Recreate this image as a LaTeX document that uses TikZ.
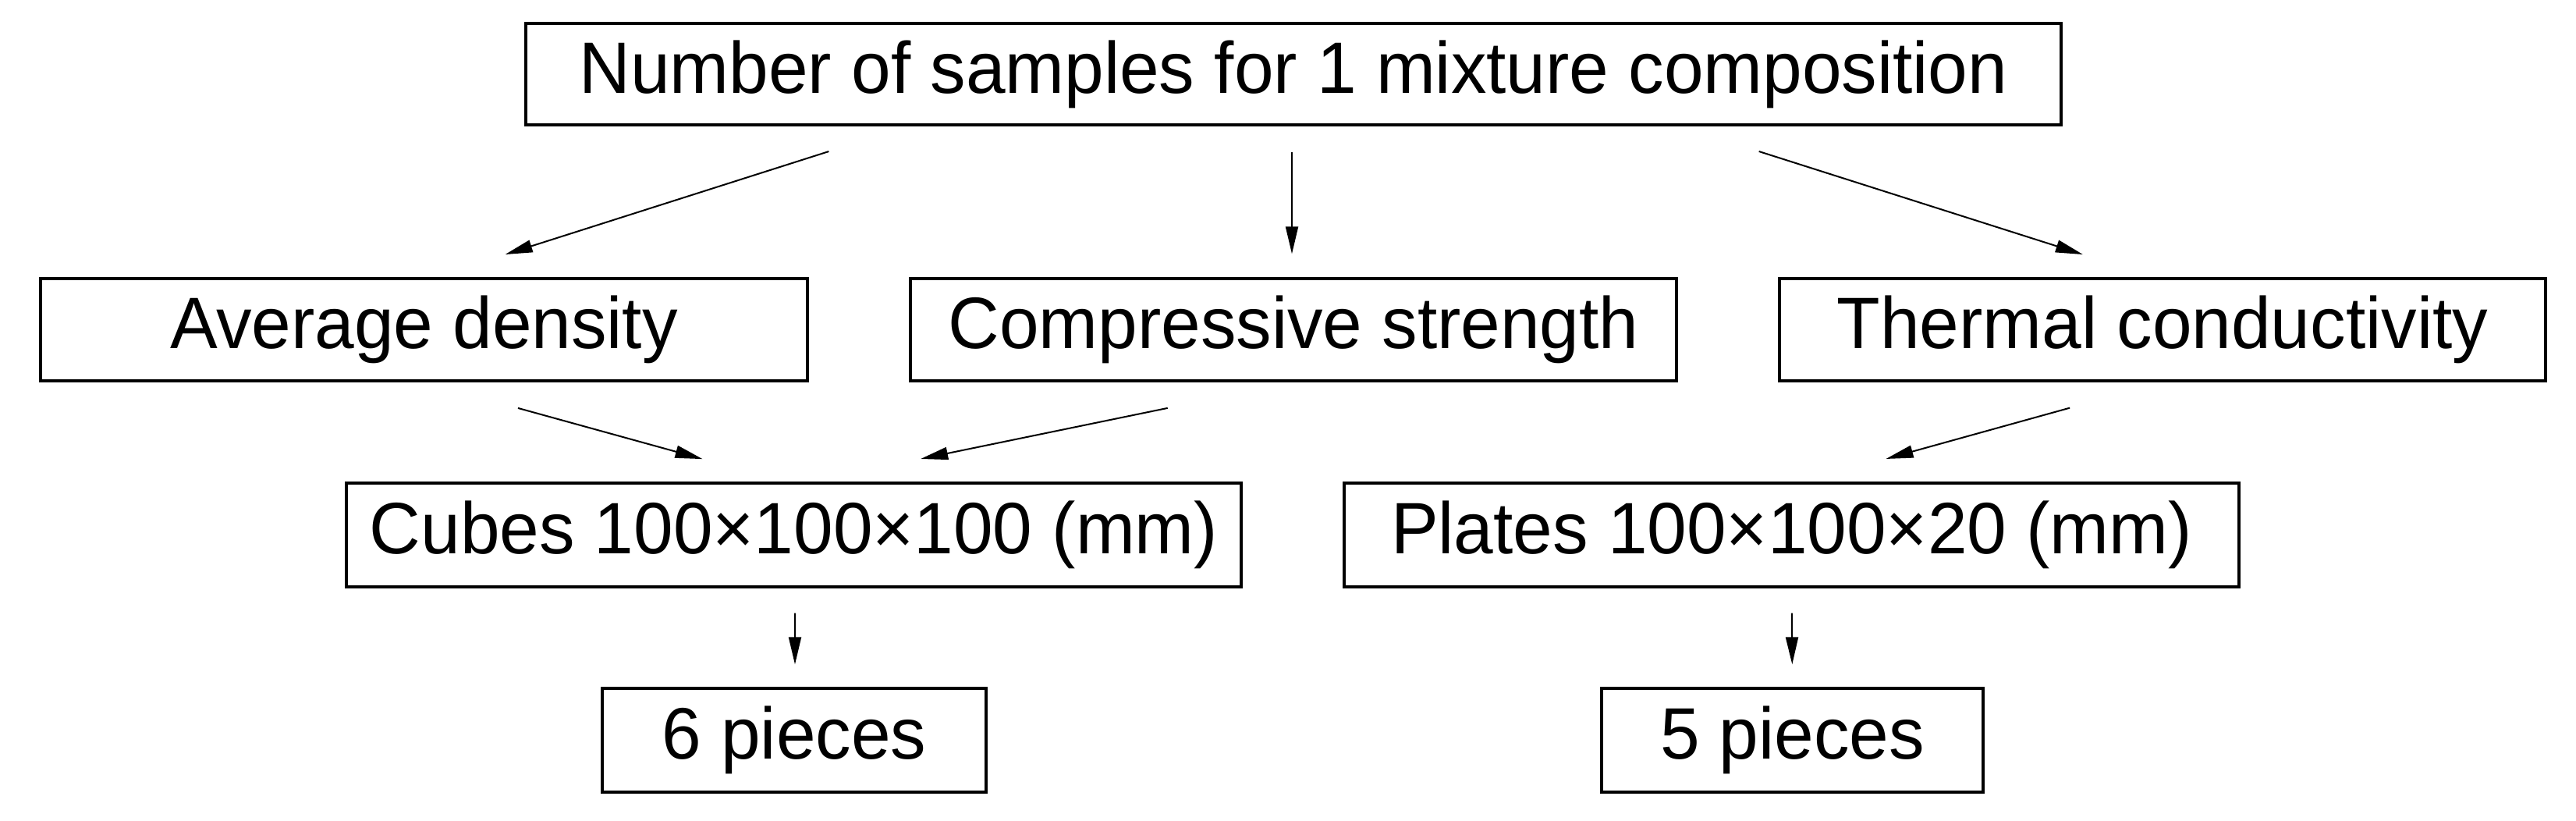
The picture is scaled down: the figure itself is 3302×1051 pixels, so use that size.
\documentclass[tikz,border=0pt]{standalone}
\usepackage{fontspec}
\setmainfont{Liberation Sans}[FakeStretch=0.975]
\usetikzlibrary{arrows.meta}
\begin{document}
\begin{tikzpicture}[x=0.3pt,y=-0.3pt,
  box/.style={draw=black,line width=1pt,fill=white,inner sep=0pt,anchor=center,
    font=\fontsize{28}{34}\selectfont},
  arr/.style={draw=black,line width=0.6pt,-{Triangle[length=10.5pt,width=4.8pt]}}]
\useasboundingbox[fill=white] (0,0) rectangle (3302,1051);
\node[box,minimum width=590.4pt,minimum height=39pt] (top) at (1658,95) {Number of samples for 1 mixture composition};
\node[box,minimum width=294.9pt,minimum height=39.3pt] (avg) at (543.5,422.5) {Average density};
\node[box,minimum width=294.6pt,minimum height=39.3pt] (comp) at (1658,422.5) {Compressive strength};
\node[box,minimum width=294.6pt,minimum height=39.3pt] (therm) at (2772,422.5) {Thermal conductivity};
\node[box,minimum width=344.1pt,minimum height=39.9pt] (cubes) at (1017.5,685.5) {Cubes 100×100×100 (mm)};
\node[box,minimum width=344.1pt,minimum height=39.9pt] (plates) at (2296.5,685.5) {Plates 100×100×20 (mm)};
\node[box,minimum width=147.6pt,minimum height=39.9pt] (six) at (1018,948.5) {6 pieces};
\node[box,minimum width=146.7pt,minimum height=39.9pt] (five) at (2297.5,948.5) {5 pieces};
\draw[arr,shorten <=32pt,shorten >=29pt] ([xshift={-494*0.3pt}]top.south) -- ([xshift={12*0.3pt}]avg.north);
\draw[arr,shorten <=9.9pt,shorten >=9pt] ([xshift={-2*0.3pt}]top.south) -- ([xshift={-2*0.3pt}]comp.north);
\draw[arr,shorten <=32pt,shorten >=29pt] ([xshift={495*0.3pt}]top.south) -- ([xshift={-10*0.3pt}]therm.north);
\draw[arr,shorten <=37.5pt,shorten >=33pt] (avg.south) -- ([xshift={-11*0.3pt}]cubes.north);
\draw[arr,shorten <=49.4pt,shorten >=43.7pt] (comp.south) -- ([xshift={20*0.3pt}]cubes.north);
\draw[arr,shorten <=37pt,shorten >=33pt] (therm.south) -- ([xshift={15*0.3pt}]plates.north);
\draw[arr,shorten <=9.6pt,shorten >=8.7pt] ([xshift={1.5*0.3pt}]cubes.south) -- ([xshift={1*0.3pt}]six.north);
\draw[arr,shorten <=9.6pt,shorten >=8.7pt] (plates.south) -- (five.north);
\end{tikzpicture}
\end{document}
